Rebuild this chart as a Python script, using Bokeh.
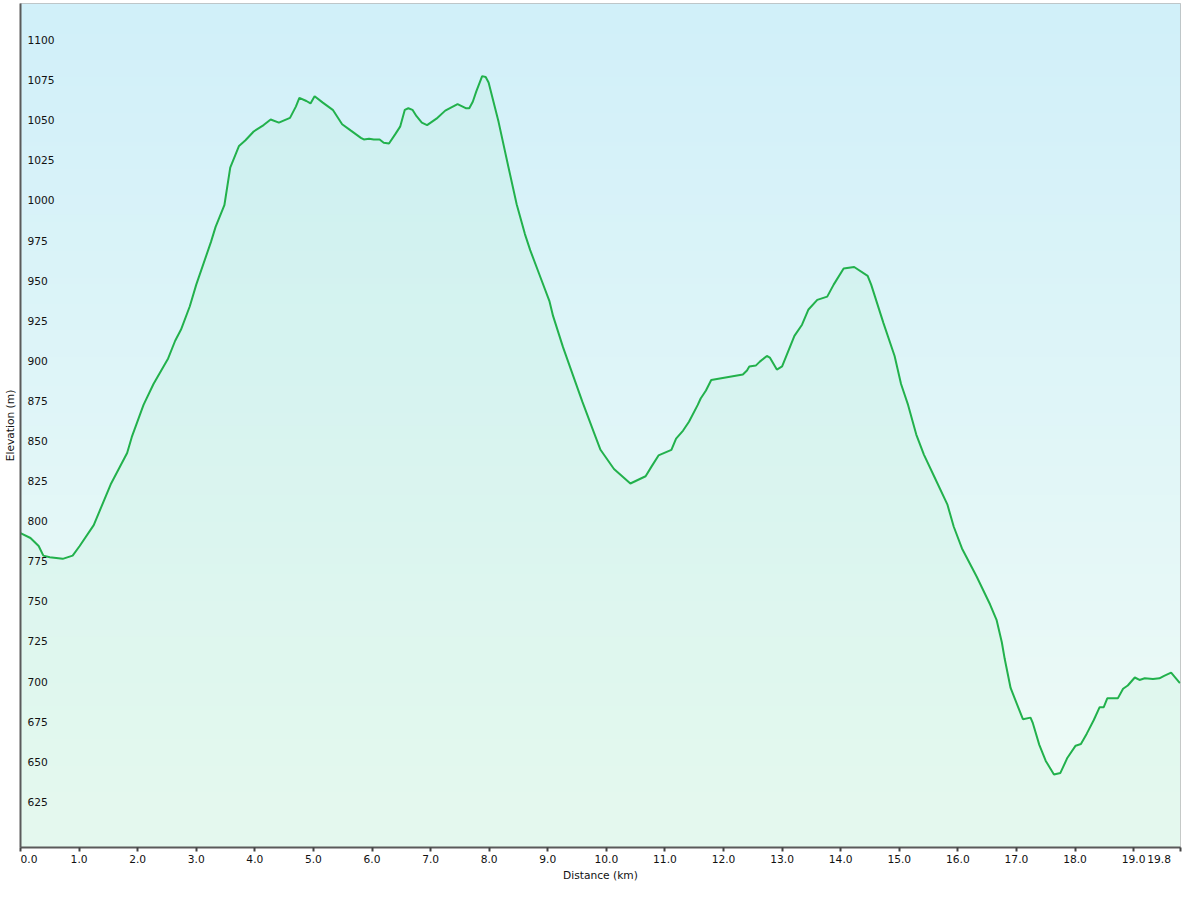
import numpy as np
from bokeh.plotting import figure
from bokeh.models import Range1d, FixedTicker, ColumnDataSource, NumeralTickFormatter
from bokeh.core.properties import value
from bokeh.embed import file_html
from bokeh.resources import INLINE

# ---------------- data ----------------
distance_km = [0.00, 0.17, 0.31, 0.39, 0.50, 0.72, 0.89, 1.01, 1.25, 1.54,
               1.82, 1.90, 2.10, 2.27, 2.52, 2.64, 2.74, 2.89, 3.00, 3.25,
               3.33, 3.48, 3.58, 3.73, 3.84, 3.98, 4.15, 4.27, 4.41, 4.60,
               4.70, 4.76, 4.88, 4.95, 5.02, 5.16, 5.33, 5.49, 5.64, 5.81,
               5.86, 5.95, 6.03, 6.13, 6.20, 6.29, 6.40, 6.48, 6.56, 6.62,
               6.69, 6.76, 6.85, 6.94, 7.10, 7.25, 7.46, 7.60, 7.66, 7.72,
               7.78, 7.88, 7.94, 7.99, 8.16, 8.33, 8.47, 8.61, 8.70, 8.86,
               9.03, 9.09, 9.26, 9.42, 9.59, 9.79, 9.90, 10.13, 10.41, 10.67,
               10.77, 10.89, 11.11, 11.19, 11.31, 11.41, 11.56, 11.61, 11.70, 11.79,
               12.33, 12.40, 12.44, 12.55, 12.62, 12.74, 12.79, 12.91, 13.00, 13.21,
               13.34, 13.45, 13.60, 13.77, 13.88, 14.05, 14.23, 14.46, 14.52, 14.73,
               14.92, 15.03, 15.15, 15.29, 15.42, 15.62, 15.82, 15.93, 16.07, 16.32,
               16.55, 16.66, 16.75, 16.80, 16.90, 16.97, 17.11, 17.24, 17.28, 17.39,
               17.50, 17.64, 17.75, 17.87, 18.01, 18.10, 18.20, 18.32, 18.42, 18.49,
               18.55, 18.73, 18.82, 18.90, 19.02, 19.10, 19.19, 19.33, 19.44, 19.52,
               19.64, 19.79]
elevation_m = [795, 792, 787, 781, 780, 779, 781, 787, 800, 825.5,
               845, 855, 875, 888, 904, 915, 922, 936.5, 950, 976.5,
               986, 999.5, 1023, 1036.5, 1040, 1045.5, 1049.5, 1053, 1051, 1054,
               1061, 1066.5, 1064.5, 1063, 1067.5, 1063.5, 1059, 1050, 1046, 1041.5,
               1040.5, 1041, 1040.5, 1040.5, 1038.5, 1038, 1044, 1048.5, 1059, 1060,
               1059, 1055, 1051, 1049.5, 1053.5, 1058.5, 1062.5, 1060, 1060, 1064,
               1070.5, 1080, 1079.5, 1076, 1051.5, 1023, 1000, 981.5, 971.5, 956,
               939.5, 930.5, 911, 894.5, 877, 857.5, 847, 835, 826, 830.5,
               836.5, 843.5, 847, 854, 859, 864.5, 875, 879, 884, 890.5,
               894, 896.5, 899, 899.5, 902, 905.5, 904.5, 897, 899, 918,
               925, 934.5, 940.5, 942.5, 950, 960, 961, 955.5, 950, 926,
               905.5, 888, 875, 856.5, 844, 828.5, 813, 799, 785.5, 768,
               750.5, 741, 727, 716.5, 698.5, 692, 679, 680, 676.5, 663,
               653, 644.5, 645.5, 655, 662.5, 663.5, 670, 678.5, 686.5, 686.5,
               692, 692, 698, 700, 705, 703.5, 704.5, 704, 704.5, 706,
               708, 701.5]

x_ticks = [0, 1, 2, 3, 4, 5, 6, 7, 8, 9, 10, 11, 12, 13, 14, 15, 16, 17, 18, 19, 19.8]
x_tick_labels = ["0.0", "1.0", "2.0", "3.0", "4.0", "5.0", "6.0", "7.0", "8.0", "9.0",
                 "10.0", "11.0", "12.0", "13.0", "14.0", "15.0", "16.0", "17.0",
                 "18.0", "19.0", "19.8"]
y_ticks = [625, 650, 675, 700, 725, 750, 775, 800, 825, 850, 875, 900, 925,
           950, 975, 1000, 1025, 1050, 1075, 1100]
y_tick_labels = ["625", "650", "675", "700", "725", "750", "775", "800", "825",
                 "850", "875", "900", "925", "950", "975", "1000", "1025",
                 "1050", "1075", "1100"]

X0, X1 = 0.0, 19.8
Y0, Y1 = 599.0, 1125.3

FONT = "DejaVu Sans"
FSIZE = "8pt"
NB = "\u00a0"

p = figure(width=1184, height=884,
           x_range=Range1d(X0, X1), y_range=Range1d(Y0, Y1),
           output_backend="svg", toolbar_location=None,
           min_border_left=0, min_border_right=4,
           min_border_top=3, min_border_bottom=0)

# ---- background vertical gradient ----
n = 256
top_rgb = np.array([209, 240, 250], dtype=float)
bot_rgb = np.array([240, 252, 246], dtype=float)
t = np.linspace(0.0, 1.0, n)[:, None]
cols = bot_rgb * (1 - t) + top_rgb * t
img = np.zeros((n, 2), dtype=np.uint32)
view = img.view(dtype=np.uint8).reshape((n, 2, 4))
for c in range(2):
    view[:, c, 0] = cols[:, 0].astype(np.uint8)
    view[:, c, 1] = cols[:, 1].astype(np.uint8)
    view[:, c, 2] = cols[:, 2].astype(np.uint8)
    view[:, c, 3] = 255
p.image_rgba(image=[img], x=X0, y=Y0, dw=X1 - X0, dh=Y1 - Y0)

p.background_fill_color = "#e8f7fa"
p.border_fill_color = "white"
p.outline_line_color = "#b8b8b8"
p.outline_line_width = 1

# ---- grid ----
p.xgrid.visible = False
p.ygrid.ticker = FixedTicker(ticks=y_ticks)
p.ygrid.grid_line_color = "#a2b9bf"
p.ygrid.grid_line_width = 1

src = ColumnDataSource(data=dict(x=distance_km, y=elevation_m))

# area
p.varea(x="x", y1=Y0, y2="y", source=src, fill_color="#b4ebc8", fill_alpha=0.17)
# profile line
p.line(x="x", y="y", source=src, line_color="#22b14c", line_width=2)

# y tick labels inside plot
ysrc = ColumnDataSource(data=dict(x=[X0] * len(y_ticks), y=y_ticks, t=y_tick_labels))
p.text(x="x", y="y", text="t", source=ysrc, x_offset=7, y_offset=0,
       text_font=value(FONT), text_font_size=FSIZE, text_baseline="bottom",
       text_align="left", text_color="#111111")

# ---- y axis ----
p.yaxis.ticker = FixedTicker(ticks=[])
p.yaxis.major_label_standoff = 0
p.yaxis.major_tick_out = 0
p.yaxis.major_tick_in = 0
p.yaxis.minor_tick_out = 0
p.yaxis.minor_tick_in = 0
p.yaxis.axis_label = "Elevation (m)"
p.yaxis.axis_label_standoff = 4
p.yaxis.axis_label_text_font = FONT
p.yaxis.axis_label_text_font_size = FSIZE
p.yaxis.axis_label_text_font_style = "normal"
p.yaxis.axis_label_text_color = "#111111"
p.yaxis.axis_line_color = "#5a5a5a"
p.yaxis.axis_line_width = 2

# ---- x axis ----
p.xaxis.ticker = FixedTicker(ticks=x_ticks)
p.xaxis.formatter = NumeralTickFormatter(format="0.0")
overrides = {x_ticks[0]: NB * 5 + x_tick_labels[0],
             x_ticks[-1]: x_tick_labels[-1] + NB * 4}
p.xaxis.major_label_overrides = overrides
p.xaxis.major_label_text_font = FONT
p.xaxis.major_label_text_font_size = FSIZE
p.xaxis.major_label_text_color = "#111111"
p.xaxis.major_label_standoff = 1
p.xaxis.major_tick_out = 4
p.xaxis.major_tick_in = 0
p.xaxis.major_tick_line_color = "#444444"
p.xaxis.major_tick_line_width = 2
p.xaxis.minor_tick_out = 0
p.xaxis.minor_tick_in = 0
p.xaxis.axis_line_color = "#5a5a5a"
p.xaxis.axis_line_width = 2
p.xaxis.axis_label = "Distance (km)"
p.xaxis.axis_label_standoff = 0
p.xaxis.axis_label_text_font = FONT
p.xaxis.axis_label_text_font_size = FSIZE
p.xaxis.axis_label_text_font_style = "normal"
p.xaxis.axis_label_text_color = "#111111"

open("out.html", "w").write(file_html(p, INLINE))
